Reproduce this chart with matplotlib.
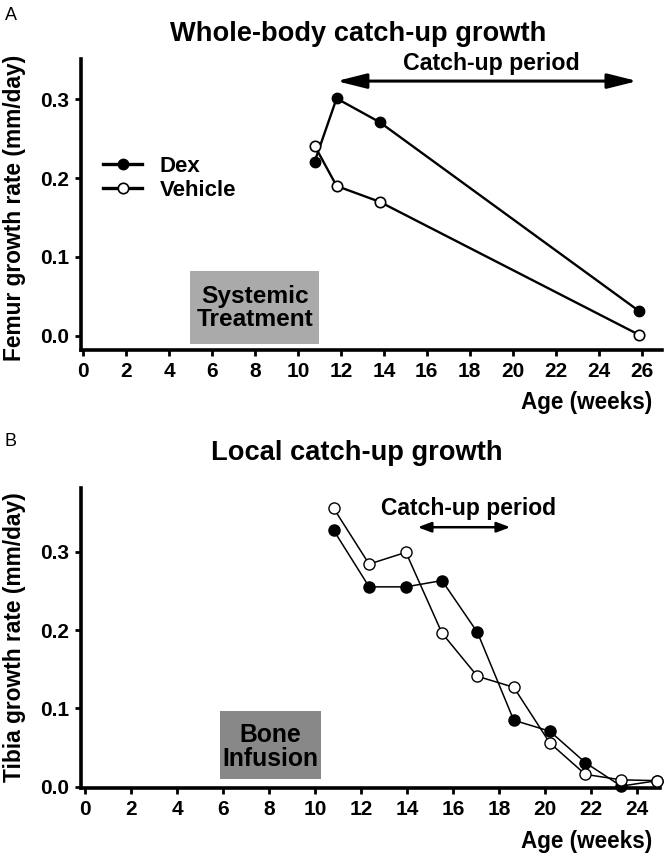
import matplotlib
matplotlib.use("Agg")
import matplotlib.pyplot as plt
from matplotlib.patches import Rectangle

FAM = ['Liberation Sans', 'DejaVu Sans']
plt.rcParams['font.family'] = FAM
plt.rcParams['font.weight'] = 'bold'

# ---- Panel A data ----
a_weeks_dex = [10.78, 11.8, 13.8, 25.9]
a_dex = [0.221, 0.301, 0.271, 0.031]
a_weeks_veh = [10.78, 11.8, 13.8, 25.9]
a_veh = [0.241, 0.190, 0.170, 0.001]
a_xticks = list(range(0, 27, 2))
a_yticks = [0.0, 0.1, 0.2, 0.3]

# ---- Panel B data ----
b_weeks = [10.8, 12.34, 13.94, 15.51, 17.05, 18.63, 20.2, 21.74, 23.3, 24.87]
b_dex = [0.327, 0.255, 0.255, 0.263, 0.197, 0.085, 0.071, 0.031, 0.001, 0.008]
b_veh = [0.355, 0.284, 0.299, 0.196, 0.141, 0.127, 0.056, 0.016, 0.009, 0.008]
b_xticks = list(range(0, 25, 2))
b_yticks = [0.0, 0.1, 0.2, 0.3]

W, H = 667, 858
fig = plt.figure(figsize=(W / 100, H / 100), dpi=100)
R = fig.canvas.get_renderer()

def fit(t, target, vertical=False, maxsize=40):
    """Scale a text object's font size so its extent matches target pixels."""
    t.set_fontsize(10)
    bb = t.get_window_extent(R)
    cur = bb.height if vertical else bb.width
    t.set_fontsize(min(maxsize, 10 * target / cur))
    return t

def px_axes(l, t, r, b):
    return fig.add_axes([l / W, 1 - b / H, (r - l) / W, (b - t) / H])

def style(ax):
    for s in ['top', 'right']:
        ax.spines[s].set_visible(False)
    for s in ['left', 'bottom']:
        ax.spines[s].set_linewidth(2.6)
    ax.tick_params(width=2.0, length=4.5, labelsize=15, pad=4)
    for lab in ax.get_xticklabels() + ax.get_yticklabels():
        lab.set_fontweight('bold')

def ftext(x, y, s, **kw):
    return fig.text(x / W, 1 - y / H, s, **kw)

# ---------------- Panel A ----------------
axA = px_axes(81, 59, 662, 350)
axA.set_xlim(-0.1, 26.95)
axA.set_ylim(-0.018, 0.351)
axA.plot(a_weeks_dex, a_dex, '-o', color='black', lw=1.7, ms=7.5,
         mfc='black', mec='black', label='Dex')
axA.plot(a_weeks_veh, a_veh, '-o', color='black', lw=1.7, ms=7.5,
         mfc='white', mec='black', mew=1.2, label='Vehicle')
axA.set_xticks(a_xticks)
axA.set_yticks(a_yticks)
axA.set_yticklabels([f"{v:.1f}" for v in a_yticks])
style(axA)
fit(ftext(15, 207.5, 'Femur growth rate (mm/day)', rotation=90, ha='center', va='center',
          fontweight='bold'), 309, vertical=True)
fit(ftext(652, 402, 'Age (weeks)', ha='right', va='center', fontweight='bold'), 132)
leg = axA.legend(loc='center left', bbox_to_anchor=(0.004, 0.59), frameon=False,
                 handlelength=1.75, handletextpad=0.8, labelspacing=0.15, borderpad=0.4,
                 prop={'weight': 'bold', 'size': 16, 'family': FAM})
for ln in leg.get_lines():
    ln.set_linewidth(2.4)
axA.add_patch(Rectangle((4.96, -0.011), 6.0, 0.093, facecolor='#aaaaaa',
                        edgecolor='none', zorder=1))
t = axA.text(8.0, 0.0358, 'Systemic\nTreatment', ha='center', va='center',
             fontweight='bold', linespacing=1.0, zorder=2)
fit(t, 117)
axA.annotate('', xy=(25.8, 0.323), xytext=(11.8, 0.323),
             arrowprops=dict(arrowstyle='<|-|>,head_length=1.8,head_width=0.45',
                             lw=2.2, color='black', shrinkA=0, shrinkB=0, mutation_scale=10))
fit(axA.text(19.01, 0.345, 'Catch-up period', ha='center', va='center',
             fontweight='bold'), 177)
fit(ftext(358, 34, 'Whole-body catch-up growth', ha='center', va='center',
          fontweight='bold'), 375)
ftext(5, 15, 'A', ha='left', va='center', fontsize=13, fontweight='normal')

# ---------------- Panel B ----------------
axB = px_axes(81, 488, 660, 787.7)
axB.set_xlim(-0.19, 24.99)
axB.set_ylim(-0.001, 0.381)
axB.plot(b_weeks, b_dex, '-o', color='black', lw=1.1, ms=8,
         mfc='black', mec='black', label='Dex', zorder=3, clip_on=False)
axB.plot(b_weeks, b_veh, '-o', color='black', lw=1.1, ms=8,
         mfc='white', mec='black', mew=1.0, label='Vehicle', zorder=3, clip_on=False)
axB.set_xticks(b_xticks)
axB.set_yticks(b_yticks)
axB.set_yticklabels([f"{v:.1f}" for v in b_yticks])
style(axB)
fit(ftext(15, 637, 'Tibia growth rate (mm/day)', rotation=90, ha='center', va='center',
          fontweight='bold'), 291, vertical=True)
fit(ftext(652, 841.5, 'Age (weeks)', ha='right', va='center', fontweight='bold'), 132)
axB.add_patch(Rectangle((5.84, 0.0098), 4.39, 0.087, facecolor='#888888',
                        edgecolor='none', zorder=1))
t = axB.text(8.05, 0.051, 'Bone\nInfusion', ha='center', va='center',
             fontweight='bold', linespacing=1.0, zorder=2)
fit(t, 96)
axB.annotate('', xy=(18.48, 0.331), xytext=(14.45, 0.331),
             arrowprops=dict(arrowstyle='<|-|>,head_length=0.8,head_width=0.3',
                             lw=1.8, color='black', shrinkA=0, shrinkB=0, mutation_scale=10))
fit(axB.text(16.67, 0.355, 'Catch-up period', ha='center', va='center',
             fontweight='bold'), 175)
fit(ftext(356.5, 453, 'Local catch-up growth', ha='center', va='center',
          fontweight='bold'), 289)
ftext(5, 441, 'B', ha='left', va='center', fontsize=13, fontweight='normal')

fig.savefig('out.png', dpi=100)
